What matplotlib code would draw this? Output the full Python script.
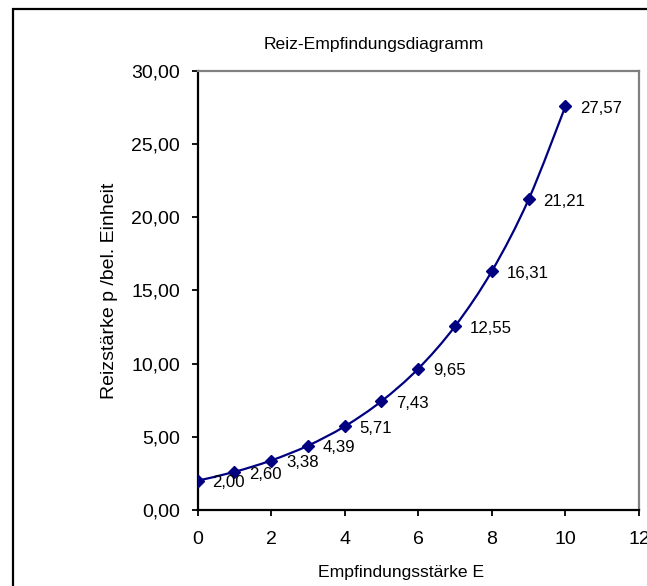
import numpy as np
import matplotlib
matplotlib.use("Agg")
import matplotlib.pyplot as plt
from matplotlib.path import Path
from matplotlib.patches import PathPatch, Rectangle

plt.rcParams['font.family'] = ['Liberation Sans', 'DejaVu Sans']

title = "Reiz-Empfindungsdiagramm"
xlabel = "Empfindungsstärke E"
ylabel = "Reizstärke p /bel. Einheit"
E = [0, 1, 2, 3, 4, 5, 6, 7, 8, 9, 10]
p = [2.00, 2.60, 3.38, 4.39, 5.71, 7.43, 9.65, 12.55, 16.31, 21.21, 27.57]
xticks = [0, 2, 4, 6, 8, 10, 12]
yticks = [0, 5, 10, 15, 20, 25, 30]

W, H = 647, 586
fig = plt.figure(figsize=(W / 100, H / 100), dpi=100)
L, R, T, B = 197.5, 639, 70.7, 510
ax = fig.add_axes([L / W, 1 - B / H, (R - L) / W, (B - T) / H])
ax.set_xlim(0, 12)
ax.set_ylim(0, 30)

navy = '#000080'

# Excel-like smoothed line (Catmull-Rom -> Bezier) computed in display space
fig.canvas.draw()
pts = ax.transData.transform(np.column_stack([E, p]))
n = len(pts)
verts = [pts[0]]
codes = [Path.MOVETO]
for i in range(n - 1):
    p0 = pts[i - 1] if i > 0 else pts[i]
    p1 = pts[i]
    p2 = pts[i + 1]
    p3 = pts[i + 2] if i + 2 < n else pts[i + 1]
    c1 = p1 + (p2 - p0) / 6.0
    c2 = p2 - (p3 - p1) / 6.0
    verts += [c1, c2, p2]
    codes += [Path.CURVE4] * 3
path = Path(ax.transData.inverted().transform(np.array(verts)), codes)
ax.add_patch(PathPatch(path, facecolor='none', edgecolor=navy, lw=1.6, zorder=3))

ax.plot(E, p, linestyle='none', marker='D', markersize=5.8, color=navy, zorder=4)

for x, y in zip(E, p):
    ax.annotate(f"{y:.2f}".replace('.', ','), (x, y), xytext=(10.8, -1.5),
                textcoords='offset points', ha='left', va='center',
                fontsize=12.1, color='black', zorder=5)

ax.set_xticks(xticks)
ax.set_xticklabels([str(t) for t in xticks])
ax.set_yticks(yticks)
ax.set_yticklabels([f"{t:.2f}".replace('.', ',') for t in yticks])
ax.tick_params(axis='both', direction='out', length=4, width=1.3, colors='black',
               labelsize=14)
ax.tick_params(axis='x', pad=11.4)
ax.tick_params(axis='y', pad=8.6)

for s in ['left', 'bottom']:
    ax.spines[s].set_color('black')
    ax.spines[s].set_linewidth(1.6)
for s in ['top', 'right']:
    ax.spines[s].set_color('#808080')
    ax.spines[s].set_linewidth(1.6)

fig.text(373.5 / W, 1 - 45 / H, title, ha='center', va='center', fontsize=12.6)
fig.text(401 / W, 1 - 572 / H, xlabel, ha='center', va='center', fontsize=12.6)
fig.text(110 / W, 1 - 291 / H, ylabel, ha='center', va='center', rotation=90, fontsize=14)

# outer chart-area frame (cropped at right and bottom)
fig.add_artist(Rectangle((12.5 / W, -1), 3, 1 - 8.5 / H + 1, transform=fig.transFigure,
                         fill=False, edgecolor='black', lw=1.6))

fig.savefig("out.png", dpi=100)
